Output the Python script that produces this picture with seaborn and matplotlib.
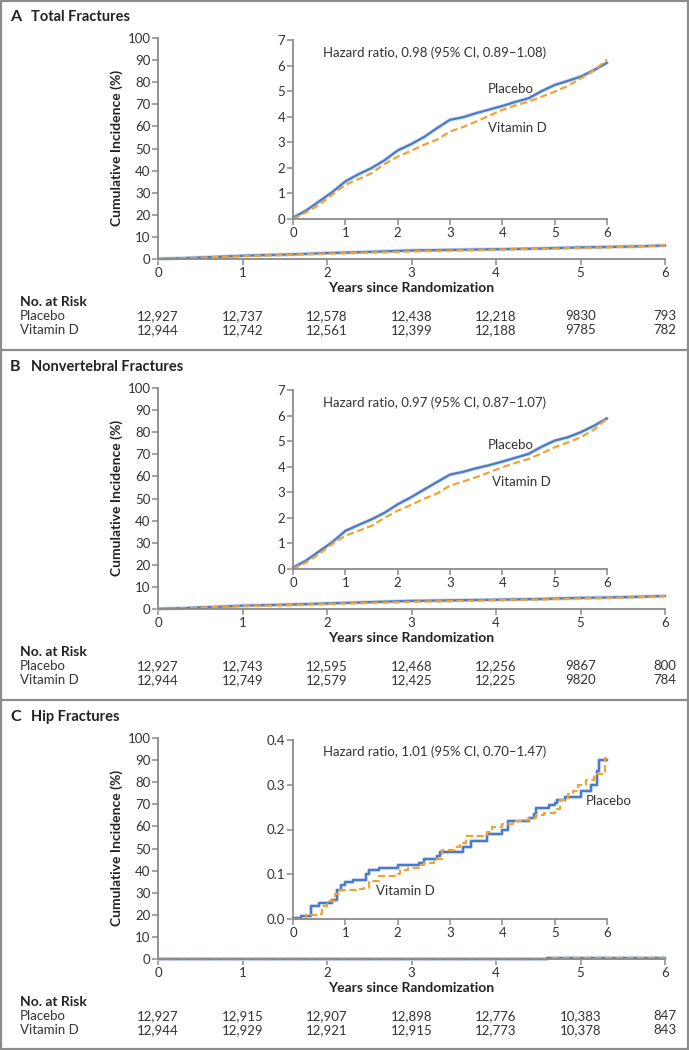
import matplotlib
matplotlib.use("Agg")
import matplotlib.pyplot as plt
import matplotlib.patheffects as pe
from matplotlib.transforms import blended_transform_factory
import pandas as pd
import seaborn as sns

sns.set_theme(style="ticks")
plt.rcParams['font.family'] = ['Lato', 'DejaVu Sans']

W, H = 689, 1050
BLUE = "#4a7bc9"
ORANGE = "#f2a233"
TXT = "#333333"
AXC = "#8a8a8a"

# ---- panel A: total fractures (cumulative incidence, %)
years_a = [0, 0.25, 0.5, 0.75, 1, 1.25, 1.5, 1.75, 2, 2.25, 2.5, 2.75, 3, 3.25, 3.5, 3.75, 4, 4.25, 4.5, 4.75, 5, 5.25, 5.5, 5.75, 6]
placebo_a = [0.05, 0.33, 0.69, 1.05, 1.47, 1.75, 1.99, 2.3, 2.68, 2.92, 3.2, 3.55, 3.88, 3.98, 4.14, 4.28, 4.42, 4.58, 4.72, 5.0, 5.24, 5.4, 5.57, 5.82, 6.11]
vitd_a = [0.0, 0.26, 0.56, 0.95, 1.34, 1.56, 1.79, 2.15, 2.44, 2.66, 2.9, 3.1, 3.42, 3.6, 3.81, 4.04, 4.27, 4.44, 4.59, 4.78, 4.98, 5.2, 5.5, 5.8, 6.24]

# ---- panel B: nonvertebral fractures
years_b = [0, 0.25, 0.5, 0.75, 1, 1.25, 1.5, 1.75, 2, 2.25, 2.5, 2.75, 3, 3.25, 3.5, 3.75, 4, 4.25, 4.5, 4.75, 5, 5.25, 5.5, 5.75, 6]
placebo_b = [0.05, 0.33, 0.69, 1.05, 1.49, 1.72, 1.94, 2.2, 2.53, 2.8, 3.1, 3.4, 3.69, 3.8, 3.94, 4.06, 4.2, 4.35, 4.5, 4.78, 5.02, 5.15, 5.35, 5.6, 5.89]
vitd_b = [0.0, 0.26, 0.59, 0.98, 1.3, 1.49, 1.69, 2.0, 2.28, 2.5, 2.74, 2.95, 3.26, 3.42, 3.59, 3.78, 3.98, 4.15, 4.3, 4.52, 4.76, 4.95, 5.15, 5.45, 5.89]

# ---- panel C: hip fractures (step curves)
years_c_pl = [0, 0.15, 0.35, 0.5, 0.75, 0.85, 0.92, 1.0, 1.15, 1.4, 1.45, 1.65, 2.0, 2.4, 2.5, 2.75, 2.8, 3.25, 3.4, 3.7, 4.0, 4.1, 4.5, 4.6, 4.65, 4.9, 5.0, 5.05, 5.2, 5.5, 5.7, 5.8, 5.85, 6.0]
placebo_c = [0.003, 0.006, 0.03, 0.036, 0.042, 0.065, 0.075, 0.082, 0.088, 0.1, 0.11, 0.113, 0.12, 0.125, 0.133, 0.14, 0.15, 0.16, 0.175, 0.19, 0.2, 0.22, 0.225, 0.235, 0.248, 0.255, 0.26, 0.265, 0.272, 0.285, 0.3, 0.33, 0.355, 0.355]
years_c_vd = [0, 0.25, 0.45, 0.55, 0.65, 0.8, 0.88, 1.2, 1.35, 1.45, 1.65, 2.0, 2.05, 2.2, 2.4, 2.5, 2.7, 2.85, 3.1, 3.2, 3.3, 3.7, 3.8, 4.0, 4.2, 4.4, 4.5, 4.65, 4.8, 5.0, 5.1, 5.25, 5.35, 5.45, 5.6, 5.75, 5.97, 6.0]
vitd_c = [0.0, 0.01, 0.012, 0.03, 0.04, 0.055, 0.065, 0.068, 0.07, 0.085, 0.095, 0.1, 0.11, 0.115, 0.12, 0.125, 0.135, 0.155, 0.16, 0.17, 0.185, 0.195, 0.205, 0.212, 0.218, 0.222, 0.225, 0.232, 0.237, 0.245, 0.265, 0.28, 0.285, 0.3, 0.31, 0.325, 0.36, 0.36]

# numbers at risk
risk_years = [0, 1, 2, 3, 4, 5, 6]
risk_pl_a = ["12,927", "12,737", "12,578", "12,438", "12,218", "9830", "793"]
risk_vd_a = ["12,944", "12,742", "12,561", "12,399", "12,188", "9785", "782"]
risk_pl_b = ["12,927", "12,743", "12,595", "12,468", "12,256", "9867", "800"]
risk_vd_b = ["12,944", "12,749", "12,579", "12,425", "12,225", "9820", "784"]
risk_pl_c = ["12,927", "12,915", "12,907", "12,898", "12,776", "10,383", "847"]
risk_vd_c = ["12,944", "12,929", "12,921", "12,915", "12,773", "10,378", "843"]

panels = [
    dict(letter="A", title="Total Fractures", y0=0,
         pl=(years_a, placebo_a), vd=(years_a, vitd_a), steps=False,
         inset_max=7, inset_ticks=[0, 1, 2, 3, 4, 5, 6, 7], fmt="{:.0f}",
         hr="Hazard ratio, 0.98 (95% CI, 0.89\u20131.08)", hr_y=6.49,
         pl_lab=(3.73, 5.08), vd_lab=(3.73, 3.56),
         risk=(risk_pl_a, risk_vd_a)),
    dict(letter="B", title="Nonvertebral Fractures", y0=350,
         pl=(years_b, placebo_b), vd=(years_b, vitd_b), steps=False,
         inset_max=7, inset_ticks=[0, 1, 2, 3, 4, 5, 6, 7], fmt="{:.0f}",
         hr="Hazard ratio, 0.97 (95% CI, 0.87\u20131.07)", hr_y=6.49,
         pl_lab=(3.73, 4.85), vd_lab=(3.8, 3.4),
         risk=(risk_pl_b, risk_vd_b)),
    dict(letter="C", title="Hip Fractures", y0=700,
         pl=(years_c_pl, placebo_c), vd=(years_c_vd, vitd_c), steps=True,
         inset_max=0.4, inset_ticks=[0, 0.1, 0.2, 0.3, 0.4], fmt="{:.1f}",
         hr="Hazard ratio, 1.01 (95% CI, 0.70\u20131.47)", hr_y=0.373,
         pl_lab=(5.6, 0.264), vd_lab=(1.59, 0.063),
         risk=(risk_pl_c, risk_vd_c)),
]


def px_box(x0, top, x1, bottom):
    return [x0 / W, 1 - bottom / H, (x1 - x0) / W, (bottom - top) / H]


def style_axes(ax, ticksize=9.5):
    sns.despine(ax=ax)
    for s in ["left", "bottom"]:
        ax.spines[s].set_color(AXC)
        ax.spines[s].set_linewidth(1.3)
    ax.tick_params(direction="out", length=4, width=1.1, color=AXC,
                   labelsize=ticksize, labelcolor=TXT, pad=1.5)
    ax.set_facecolor("white")
    ax.grid(False)


def draw_curves(ax, p, lw=1.6):
    halo = [pe.Stroke(linewidth=lw + 1.2, foreground="#cddbf2"), pe.Normal()]
    ds = "steps-post" if p["steps"] else "default"
    df_pl = pd.DataFrame({"year": p["pl"][0], "inc": p["pl"][1]})
    df_vd = pd.DataFrame({"year": p["vd"][0], "inc": p["vd"][1]})
    sns.lineplot(data=df_pl, x="year", y="inc", ax=ax, color=BLUE, lw=lw,
                 drawstyle=ds, errorbar=None, clip_on=False, path_effects=halo)
    sns.lineplot(data=df_vd, x="year", y="inc", ax=ax, color=ORANGE, lw=lw,
                 drawstyle=ds, errorbar=None, clip_on=False, linestyle=(0, (3.2, 1.6)))
    ax.set_xlabel("")
    ax.set_ylabel("")


fig = plt.figure(figsize=(W / 100, H / 100), dpi=100)
fig.patch.set_facecolor("white")

for p in panels:
    y0 = p["y0"]
    # main axes
    ax = fig.add_axes(px_box(158, y0 + 38, 665, y0 + 259))
    draw_curves(ax, p)
    ax.set_xlim(0, 6)
    ax.set_ylim(0, 100)
    ax.set_xticks(range(7))
    ax.set_yticks(range(0, 101, 10))
    style_axes(ax)

    # inset
    ins = fig.add_axes(px_box(293, y0 + 40, 607, y0 + 219))
    draw_curves(ins, p)
    ins.set_xlim(0, 6)
    ins.set_ylim(0, p["inset_max"])
    ins.set_xticks(range(7))
    ins.set_yticks(p["inset_ticks"])
    ins.set_yticklabels([p["fmt"].format(v) for v in p["inset_ticks"]])
    style_axes(ins)
    ins.patch.set_alpha(0)

    ins.text(0.57, p["hr_y"], p["hr"], fontsize=9.5, color=TXT, va="center")
    ins.text(p["pl_lab"][0], p["pl_lab"][1], "Placebo", fontsize=9.5, color=TXT, va="center")
    ins.text(p["vd_lab"][0], p["vd_lab"][1], "Vitamin D", fontsize=9.5, color=TXT, va="center")

    # titles and labels
    fig.text(10 / W, 1 - (y0 + 17) / H, p["letter"], fontsize=11.5, fontweight="bold",
             color="#222222", va="center")
    fig.text(31 / W, 1 - (y0 + 17) / H, p["title"], fontsize=10.5, fontweight="bold",
             color="#222222", va="center")
    fig.text(117 / W, 1 - (y0 + 148) / H, "Cumulative Incidence (%)", fontsize=10,
             fontweight="bold", color="#222222", rotation=90, va="center", ha="center")
    fig.text(411 / W, 1 - (y0 + 288) / H, "Years since Randomization", fontsize=10,
             fontweight="bold", color="#222222", va="center", ha="center")
    fig.text(20 / W, 1 - (y0 + 302) / H, "No. at Risk", fontsize=10,
             fontweight="bold", color="#222222", va="center")
    fig.text(20 / W, 1 - (y0 + 316) / H, "Placebo", fontsize=9.5, color=TXT, va="center")
    fig.text(20 / W, 1 - (y0 + 330) / H, "Vitamin D", fontsize=9.5, color=TXT, va="center")

    tr = blended_transform_factory(ax.transData, fig.transFigure)
    for yr, a, b in zip(risk_years, p["risk"][0], p["risk"][1]):
        ax.text(yr, 1 - (y0 + 316) / H, a, transform=tr, fontsize=9.5, color=TXT,
                ha="center", va="center")
        ax.text(yr, 1 - (y0 + 330) / H, b, transform=tr, fontsize=9.5, color=TXT,
                ha="center", va="center")

# frame and panel dividers
fig.add_artist(plt.Rectangle((1 / W, 1 / H), (W - 2) / W, (H - 2) / H,
                             transform=fig.transFigure, fill=False,
                             edgecolor="#8c8c8c", lw=1.6))
for yd in [350, 700]:
    fig.add_artist(plt.Line2D([0, 1], [1 - yd / H, 1 - yd / H],
                              transform=fig.transFigure, color="#8c8c8c", lw=1.6))

fig.savefig("out.png", dpi=100)
